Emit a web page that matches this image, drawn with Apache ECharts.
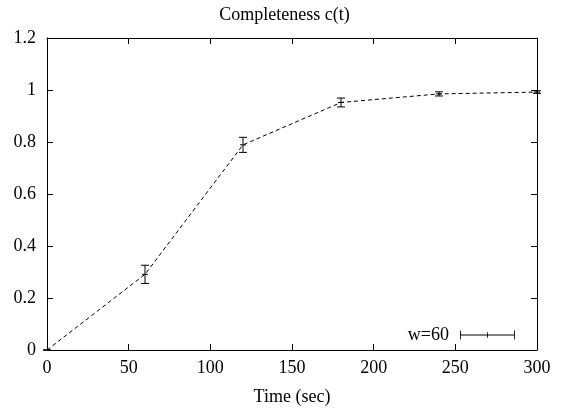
<!DOCTYPE html>
<html>
<head>
<meta charset="utf-8">
<script src="https://cdn.jsdelivr.net/npm/echarts@6/dist/echarts.min.js"></script>
<style>
  html, body { margin: 0; padding: 0; background: #fff; }
  #chart { width: 569px; height: 414px; }
</style>
</head>
<body>
<div id="chart"></div>
<script>
// data
const times = [0, 60, 120, 180, 240, 300]
const completeness = [0, 0.291, 0.789, 0.952, 0.985, 0.992]
const errs = [0, 0.035, 0.029, 0.017, 0.008, 0.005]
const xTicks = [0, 50, 100, 150, 200, 250, 300]
const yTicks = [0, 0.2, 0.4, 0.6, 0.8, 1, 1.2]

const font = 'Liberation Serif'
const fs = 18
const chart = echarts.init(document.getElementById('chart'))

// errorbar rows: [x, y, err]
const errData = times.map((t, i) => [t, completeness[i], errs[i]])

const axisCommon = {
  type: 'value',
  axisLine: { show: true, onZero: false, lineStyle: { color: '#000', width: 1 } },
  axisTick: { show: true, inside: true, length: 6, lineStyle: { color: '#000' } },
  splitLine: { show: false },
}

const option = {
  animation: false,
  backgroundColor: '#fff',
  title: {
    text: 'Completeness c(t)',
    left: 'center',
    top: 1,
    textStyle: { fontFamily: font, fontSize: fs, fontWeight: 'normal', color: '#000' },
  },
  grid: { left: 47, right: 32, top: 38, bottom: 64 },
  legend: {
    right: 49,
    bottom: 65,
    align: 'right',
    itemWidth: 55,
    itemHeight: 9,
    itemGap: 0,
    symbolKeepAspect: false,
    textStyle: { fontFamily: font, fontSize: fs, color: '#000', padding: [0, 6, 0, 0] },
    data: [{
      name: 'w=60',
      icon: 'path://M0,4.5h100v1h-100z M0,0h1.5v10h-1.5z M49.3,2h1.5v6h-1.5z M98.5,0h1.5v10h-1.5z',
      itemStyle: { color: '#000' },
    }],
  },
  xAxis: [
    {
      ...axisCommon,
      min: xTicks[0], max: xTicks[xTicks.length - 1], interval: 50,
      name: 'Time (sec)',
      nameLocation: 'middle',
      nameGap: 38,
      nameTextStyle: { fontFamily: font, fontSize: fs, color: '#000' },
      axisLabel: { fontFamily: font, fontSize: fs, color: '#000', margin: 9 },
    },
    { ...axisCommon, position: 'top', min: 0, max: 300, interval: 50, axisLabel: { show: false } },
  ],
  yAxis: [
    {
      ...axisCommon,
      min: yTicks[0], max: yTicks[yTicks.length - 1], interval: 0.2,
      axisLabel: {
        fontFamily: font, fontSize: fs, color: '#000', margin: 11,
        formatter: v => String(+v.toFixed(1)),
      },
    },
    { ...axisCommon, position: 'right', min: 0, max: 1.2, interval: 0.2, axisLabel: { show: false } },
  ],
  series: [
    {
      name: 'w=60',
      type: 'line',
      data: times.map((t, i) => [t, completeness[i]]),
      symbol: 'none',
      lineStyle: { color: '#000', width: 1, type: [4, 3] },
      z: 2,
    },
    {
      // vertical bars with caps and a centre tick
      type: 'custom',
      data: errData,
      renderItem: (params, api) => {
        const x = api.value(0), y = api.value(1), e = api.value(2)
        const top = api.coord([x, y + e])
        const bot = api.coord([x, y - e])
        const mid = api.coord([x, y])
        const cap = 4
        const style = { stroke: '#000', lineWidth: 1 }
        return {
          type: 'group',
          children: [
            { type: 'line', shape: { x1: top[0], y1: top[1], x2: bot[0], y2: bot[1] }, style },
            { type: 'line', shape: { x1: top[0] - cap, y1: top[1], x2: top[0] + cap, y2: top[1] }, style },
            { type: 'line', shape: { x1: bot[0] - cap, y1: bot[1], x2: bot[0] + cap, y2: bot[1] }, style },
            { type: 'line', shape: { x1: mid[0] - 3, y1: mid[1], x2: mid[0] + 3, y2: mid[1] }, style },
          ],
        }
      },
      z: 3,
    },
  ],
}

chart.setOption(option)
</script>
</body>
</html>
